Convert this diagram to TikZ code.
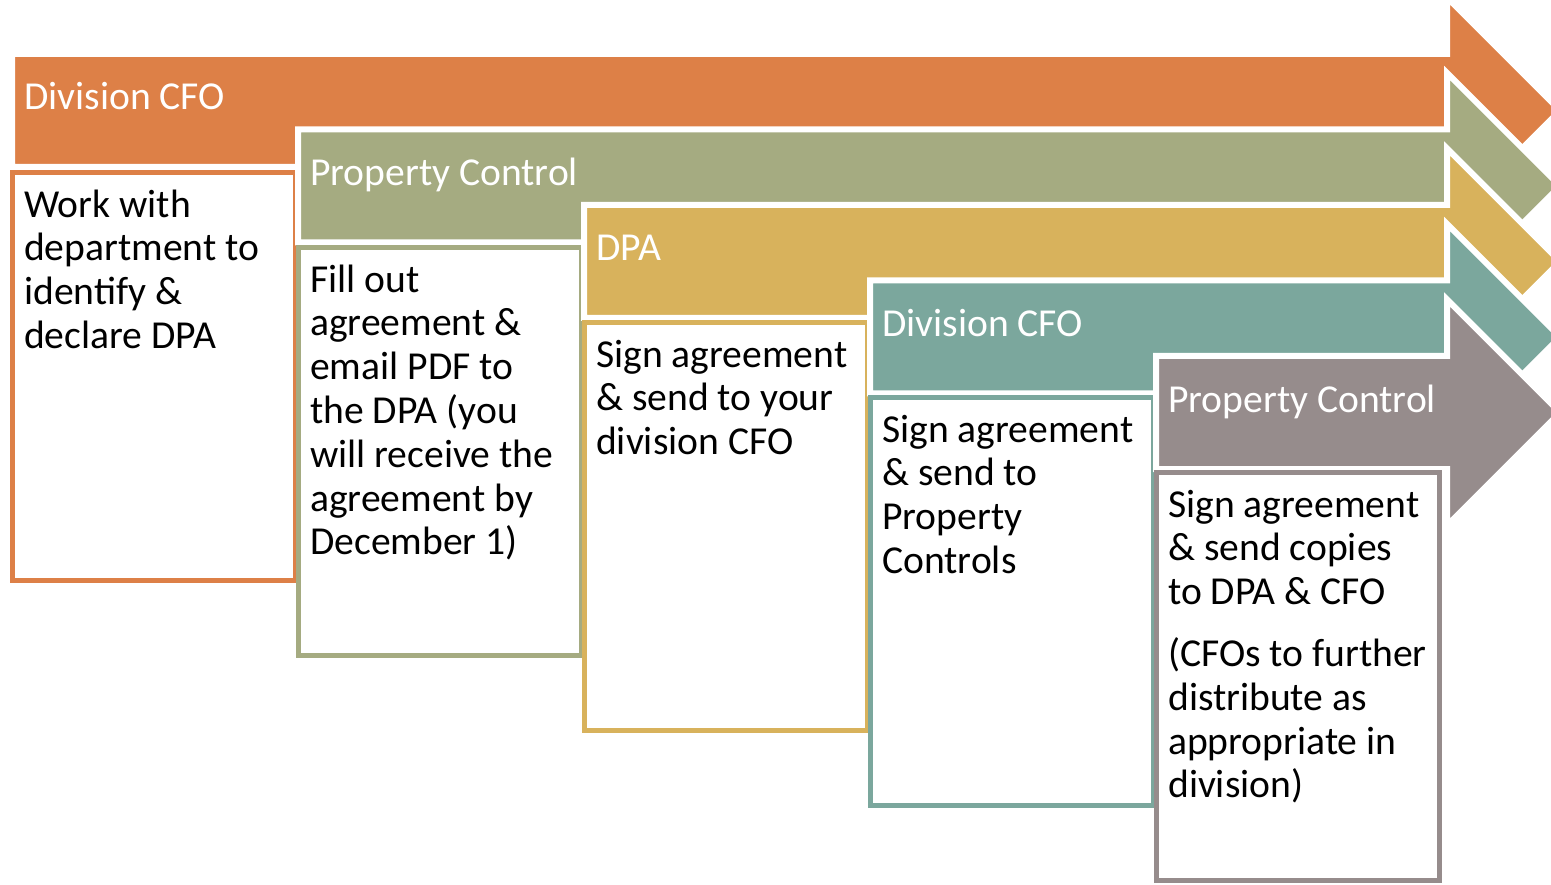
\documentclass[tikz,border=0pt]{standalone}
\usepackage{fontspec}
\setmainfont{Carlito}
\definecolor{laneorange}{HTML}{DD8047}
\definecolor{laneolive}{HTML}{A5AB81}
\definecolor{lanegold}{HTML}{D8B25C}
\definecolor{laneteal}{HTML}{7BA79D}
\definecolor{lanegrey}{HTML}{968C8C}

\begin{document}
\begin{tikzpicture}[x=1pt, y=-1pt,
	lane/.style={draw=white, line width=6pt},
	stepbox/.style={fill=white, line width=5pt},
	every node/.style={inner sep=0pt, anchor=base west, align=left,
		font=\fontsize{39.6}{43.8}\selectfont}]
	\useasboundingbox (0,0) rectangle (1551,885);
	\clip (0,0) rectangle (1551,885);

	% lanes and boxes, back to front
	\path[lane, fill=laneorange] (12,54) -- (1447,54) -- (1447,-2.5) -- (1560,110.5) -- (1447,223.5) -- (1447,167) -- (12,167) -- cycle;
	\path[stepbox, draw=laneorange] (12.5,172.5) rectangle (295.5,580.5);
	\path[lane, fill=laneolive] (298,129.5) -- (1447,129.5) -- (1447,73) -- (1560,186) -- (1447,299) -- (1447,242.5) -- (298,242.5) -- cycle;
	\path[stepbox, draw=laneolive] (298.5,247.5) rectangle (581.5,655.5);
	\path[lane, fill=lanegold] (584,205) -- (1447,205) -- (1447,148.5) -- (1560,261.5) -- (1447,374.5) -- (1447,318) -- (584,318) -- cycle;
	\path[stepbox, draw=lanegold] (584.5,322.5) rectangle (867.5,730.5);
	\path[lane, fill=laneteal] (870,280.5) -- (1447,280.5) -- (1447,224) -- (1560,337) -- (1447,450) -- (1447,393.5) -- (870,393.5) -- cycle;
	\path[stepbox, draw=laneteal] (870.5,397.5) rectangle (1153.5,805.5);
	\path[lane, fill=lanegrey] (1156,356) -- (1447,356) -- (1447,299.5) -- (1560,412.5) -- (1447,525.5) -- (1447,469) -- (1156,469) -- cycle;
	\path[stepbox, draw=lanegrey] (1156.5,472.5) rectangle (1439.5,880.5);

	\begin{scope}[every node/.append style={text=white}]
		\node (a1) at (24,110) {Division CFO};
		\node (a2) at (310,185.5) {Property Control};
		\node (a3) at (596,261) {DPA};
		\node (a4) at (882,336.5) {Division CFO};
		\node (a5) at (1168,412) {Property Control};
	\end{scope}

	% base of a multi-line node is its last line
	\begin{scope}[every node/.append style={text=black}]
		\node (t1) at (24,348.4) {Work with\\department to\\identify \&\\declare DPA};
		\node (t2) at (310,554.8) {Fill out\\agreement \&\\email PDF to\\the DPA (you\\will receive the\\agreement by\\December 1)};
		\node (t3) at (596,454.6) {Sign agreement\\\& send to your\\division CFO};
		\node (t4) at (882,573.4) {Sign agreement\\\& send to\\Property\\Controls};
		\node (t5) at (1168,797.8) {Sign agreement\\\& send copies\\to DPA \& CFO\\[18pt](CFOs to further\\distribute as\\appropriate in\\division)};
	\end{scope}
\end{tikzpicture}
\end{document}
